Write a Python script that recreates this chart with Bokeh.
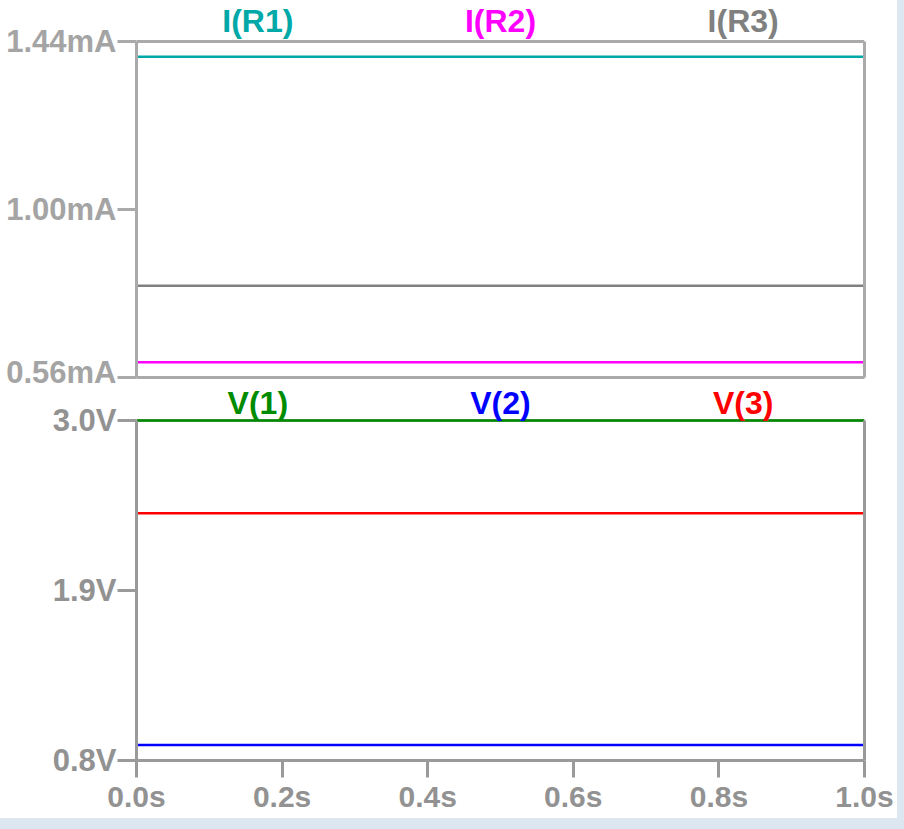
from bokeh.plotting import figure
from bokeh.layouts import column
from bokeh.models import (Range1d, FixedTicker, CustomJSTickFormatter, Label,
                          LinearAxis, Span)
from bokeh.embed import file_html
from bokeh.resources import INLINE

# ---- data ----
time_s = [0.0, 1.0]
i_r1 = [1.40, 1.40]   # mA
i_r2 = [0.60, 0.60]   # mA
i_r3 = [0.80, 0.80]   # mA
v_1 = [3.0, 3.0]      # V
v_2 = [0.9, 0.9]      # V
v_3 = [2.4, 2.4]      # V

i_ticks = [0.56, 1.00, 1.44]
v_ticks = [0.8, 1.9, 3.0]
t_ticks = [0.0, 0.2, 0.4, 0.6, 0.8, 1.0]

i_names = ["I(R1)", "I(R2)", "I(R3)"]
v_names = ["V(1)", "V(2)", "V(3)"]
legend_x = [1 / 6, 3 / 6, 5 / 6]

C_IR1, C_IR2, C_IR3 = "#00a8a8", "#ff00ff", "#808080"
C_V1, C_V2, C_V3 = "#008c00", "#0000ff", "#ff0000"

FONT = "Liberation Sans"
TOP_GRAY = "#aaaaaa"
TOP_TXT = "#a4a4a4"
BOT_GRAY = "#9a9a9a"
BOT_TXT = "#929292"

W = 897
LEFT, RIGHT = 136, 33
OVERLAP = 10


def style_axis(ax, color, txt, ticks, code, tick_out, standoff):
    ax.ticker = FixedTicker(ticks=ticks)
    if code:
        ax.formatter = CustomJSTickFormatter(code=code)
    ax.axis_line_color = color
    ax.axis_line_width = 3
    ax.major_tick_line_color = color
    ax.major_tick_line_width = 3
    ax.major_tick_out = tick_out
    ax.major_tick_in = 0
    ax.minor_tick_line_color = None
    ax.major_label_standoff = standoff
    ax.major_label_text_font = FONT
    ax.major_label_text_font_style = "bold"
    ax.major_label_text_font_size = "31px"
    ax.major_label_text_color = txt


# ---- top pane: currents ----
# frame: 377 px tall, value range 0.56..1.44 occupies the lower 336 px
i_span = i_ticks[-1] - i_ticks[0]
i_top = i_ticks[-1] + i_span * 41 / 336
p1 = figure(width=W, height=389, output_backend="svg", toolbar_location=None,
            x_range=Range1d(0, 1), y_range=Range1d(i_ticks[0], i_top),
            x_axis_location=None, y_axis_location=None,
            min_border_left=LEFT, min_border_right=RIGHT,
            min_border_top=0, min_border_bottom=12,
            background_fill_color="white", border_fill_color="white")
p1.outline_line_color = None
p1.grid.visible = False

ay = LinearAxis(bounds=(i_ticks[0], i_ticks[-1]))
style_axis(ay, TOP_GRAY, TOP_TXT, i_ticks, "return tick.toFixed(2) + 'mA';", 19, 1)
p1.add_layout(ay, "left")
ar = LinearAxis(bounds=(i_ticks[0], i_ticks[-1]))
style_axis(ar, TOP_GRAY, TOP_TXT, [], None, 0, 0)
p1.add_layout(ar, "right")
ab = LinearAxis()
style_axis(ab, TOP_GRAY, TOP_TXT, [], None, 0, 0)
p1.add_layout(ab, "below")
p1.add_layout(Span(location=i_ticks[-1], dimension="width", level="underlay",
                   line_color=TOP_GRAY, line_width=3))

for ys, c in ((i_r1, C_IR1), (i_r2, C_IR2), (i_r3, C_IR3)):
    p1.line(time_s, ys, line_color=c, line_width=2.5)

for name, xx, c in zip(i_names, legend_x, (C_IR1, C_IR2, C_IR3)):
    p1.add_layout(Label(x=xx, y=i_ticks[-1], y_offset=21, text=name,
                        text_align="center", text_baseline="middle",
                        text_font=FONT, text_font_style="bold",
                        text_font_size="32px", text_color=c))

# ---- bottom pane: voltages ----
# canvas overlaps the top pane by OVERLAP px (transparent border area)
v_span = v_ticks[-1] - v_ticks[0]
v_top = v_ticks[-1] + v_span * (31 + OVERLAP) / 340
p2 = figure(width=W, height=429 + OVERLAP, output_backend="svg", toolbar_location=None,
            x_range=Range1d(0, 1), y_range=Range1d(v_ticks[0], v_top),
            x_axis_location=None, y_axis_location=None,
            min_border_left=LEFT, min_border_right=RIGHT,
            min_border_top=0, min_border_bottom=58,
            background_fill_alpha=0, border_fill_alpha=0,
            margin=(-OVERLAP, 0, 0, 0))
p2.outline_line_color = None
p2.grid.visible = False

vy = LinearAxis(bounds=(v_ticks[0], v_ticks[-1]))
style_axis(vy, BOT_GRAY, BOT_TXT, v_ticks, "return tick.toFixed(1) + 'V';", 19, 1)
p2.add_layout(vy, "left")
vr = LinearAxis(bounds=(v_ticks[0], v_ticks[-1]))
style_axis(vr, BOT_GRAY, BOT_TXT, [], None, 0, 0)
p2.add_layout(vr, "right")
vx = LinearAxis()
style_axis(vx, BOT_GRAY, BOT_TXT, t_ticks, "return tick.toFixed(1) + 's';", 17, 2)
vx.major_label_text_font_size = "30px"
p2.add_layout(vx, "below")
p2.add_layout(Span(location=v_ticks[-1], dimension="width", level="underlay",
                   line_color=BOT_GRAY, line_width=3))

for ys, c in ((v_1, C_V1), (v_2, C_V2), (v_3, C_V3)):
    p2.line(time_s, ys, line_color=c, line_width=2.5)

for name, xx, c in zip(v_names, legend_x, (C_V1, C_V2, C_V3)):
    p2.add_layout(Label(x=xx, y=v_ticks[-1], y_offset=18, text=name,
                        text_align="center", text_baseline="middle",
                        text_font=FONT, text_font_style="bold",
                        text_font_size="32px", text_color=c))

panes = column(p1, p2, spacing=0, width=W, height=818,
               styles={"background-color": "white"})
layout = column(panes, spacing=0, width=904, height=829,
                styles={"background-color": "#dde7f2"})
open("out.html", "w").write(file_html(layout, INLINE))
